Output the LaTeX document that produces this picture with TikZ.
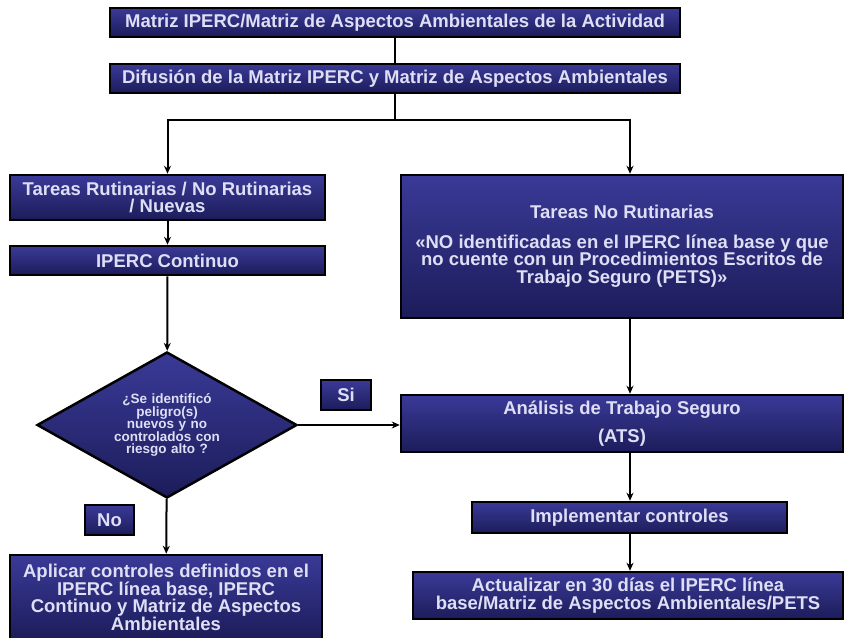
\documentclass[tikz,border=0pt]{standalone}
\usepackage{fontspec}
\setmainfont{Liberation Sans}
\usepackage{xcolor}
\usetikzlibrary{positioning,shapes.geometric,arrows.meta}

\definecolor{azularriba}{RGB}{58,58,152}
\definecolor{azulabajo}{RGB}{28,28,90}
\definecolor{textoclaro}{RGB}{222,222,245}

\tikzset{
  caja/.style={draw=black,line width=2.5pt,top color=azularriba,bottom color=azulabajo,
    text=textoclaro,font=\bfseries\fontsize{18.5}{17.5}\selectfont,align=center,inner sep=0pt},
  rombo/.style={caja,diamond,aspect=1.78,font=\bfseries\fontsize{13.5}{12}\selectfont},
  flecha/.style={-{Stealth[length=8pt,width=7pt]},line width=2pt},
  linea/.style={line width=2pt}
}

\begin{document}
\begin{tikzpicture}[x=1pt,y=-1pt]
    \useasboundingbox (0,0) rectangle (845,637);
    \node[caja,minimum width=570,minimum height=29] (matriz) at (395,22.5)
      {Matriz IPERC/Matriz de Aspectos Ambientales de la Actividad};
    \node[caja,minimum width=570,minimum height=29] (difusion) at (395,78.5)
      {Difusión de la Matriz IPERC y Matriz de Aspectos Ambientales};
    \node[caja,minimum width=315,minimum height=45] (rutinarias) at (167.5,197.5)
      {Tareas Rutinarias / No Rutinarias\\/ Nuevas};
    \node[caja,minimum width=315,minimum height=29] (continuo) at (167.5,260.5)
      {IPERC Continuo};
    \node[rombo,minimum width=260,minimum height=146,text width=118] (pregunta) at (167,425)
      {¿Se identificó\\peligro(s)\\nuevos y no\\controlados con\\riesgo alto ?};
    \node[caja,minimum width=50,minimum height=30] (si) at (346,395) {Si};
    \node[caja,minimum width=49,minimum height=30] (no) at (109.5,520) {No};
    \node[caja,minimum width=312,minimum height=85] (aplicar) at (166,597.5)
      {Aplicar controles definidos en el\\IPERC línea base, IPERC\\Continuo y Matriz de Aspectos\\Ambientales};
    \node[caja,minimum width=442,minimum height=143] (norutinarias) at (622,246.5)
      {Tareas No Rutinarias\\[12pt]«NO identificadas en el IPERC línea base y que\\no cuente con un Procedimientos Escritos de\\Trabajo Seguro (PETS)»};
    \node[caja,minimum width=442,minimum height=57] (ats) at (622,423.5)
      {Análisis de Trabajo Seguro\\[11pt](ATS)};
    \node[caja,minimum width=315,minimum height=31] (implementar) at (629.5,517.5)
      {Implementar controles};
    \node[caja,minimum width=430,minimum height=47] (actualizar) at (628,595.5)
      {Actualizar en 30 días el IPERC línea\\base/Matriz de Aspectos Ambientales/PETS};
    % ramas
    \coordinate (ramaC) at (395,120);
    \coordinate (ramaL) at (167.5,120);
    \coordinate (ramaR) at (630,120);
    \draw[linea] (matriz) -- (difusion);
    \draw[linea] (difusion) -- (ramaC);
    \draw[flecha] (ramaC) -- (ramaL) -- (rutinarias);
    \draw[flecha] (ramaC) -- (ramaR) -- (ramaR |- norutinarias.north);
    \draw[flecha] (rutinarias) -- (continuo);
    \draw[flecha] (continuo) -- (pregunta);
    \draw[flecha] (pregunta) -- (aplicar);
    \draw[flecha] (pregunta.east) -- (pregunta.east -| ats.west);
    \draw[flecha] (norutinarias.south -| ramaR) -- (ats.north -| ramaR);
    \draw[flecha] (ats.south -| ramaR) -- (implementar.north -| ramaR);
    \draw[flecha] (implementar.south -| ramaR) -- (actualizar.north -| ramaR);
  \end{tikzpicture}
\end{document}
